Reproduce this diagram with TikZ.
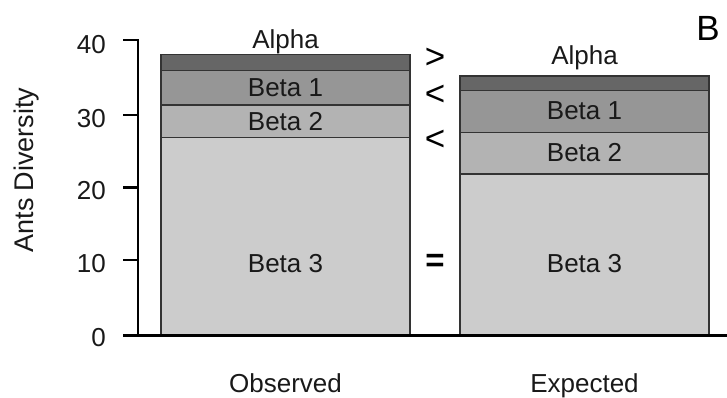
\documentclass[tikz,border=0pt]{standalone}
\usepackage{fontspec}
\setmainfont{Liberation Sans}
\begin{document}
\begin{tikzpicture}[x=1pt,y=-1pt,
  seg/.style={draw=black!80,line width=1.3pt},
  lbl/.style={font=\fontsize{26}{30}\selectfont,text=black!90,inner sep=0pt},
  cmp/.style={font=\fontsize{35}{38}\selectfont,text=black,inner sep=0pt},
  axis/.style={line width=2.6pt,black},
]
\useasboundingbox (0,0) rectangle (727,398);
\definecolor{cA}{HTML}{666666}
\definecolor{cB}{HTML}{969696}
\definecolor{cC}{HTML}{B3B3B3}
\definecolor{cD}{HTML}{CCCCCC}
% Observed bar
\draw[seg,fill=cD] (161,335) rectangle (410,137.3);
\draw[seg,fill=cC] (161,137.3) rectangle (410,105);
\draw[seg,fill=cB] (161,105) rectangle (410,70.3);
\draw[seg,fill=cA] (161,70.3) rectangle (410,54.3);
% Expected bar
\draw[seg,fill=cD] (460,335) rectangle (709,174);
\draw[seg,fill=cC] (460,174) rectangle (709,132.7);
\draw[seg,fill=cB] (460,132.7) rectangle (709,90.7);
\draw[seg,fill=cA] (460,90.7) rectangle (709,76);
% axes
\draw[axis] (123,40) -- (138,40) -- (138,335);
\foreach \yy in {115,187.5,260} \draw[axis] (123,\yy) -- (138,\yy);
\draw[axis,line width=3pt] (123,335) -- (727,335);
% tick labels
\node[lbl,anchor=east] (t40) at (106,45) {40};
\node[lbl,anchor=east] (t30) at (106,119) {30};
\node[lbl,anchor=east] (t20) at (106,191) {20};
\node[lbl,anchor=east] (t10) at (106,264) {10};
\node[lbl,anchor=east] (t0) at (106,338) {0};
\node[lbl,anchor=base,rotate=90,font=\fontsize{27}{30}\selectfont] (ytitle) at (33,170) {Ants Diversity};
% bar labels
\node[lbl] (oA) at (285.5,42) {Alpha};
\node[lbl] (o1) at (285.5,88) {Beta 1};
\node[lbl] (o2) at (285.5,122) {Beta 2};
\node[lbl] (o3) at (285.5,264) {Beta 3};
\node[lbl] (eA) at (584.5,58) {Alpha};
\node[lbl] (e1) at (584.5,111) {Beta 1};
\node[lbl] (e2) at (584.5,153) {Beta 2};
\node[lbl] (e3) at (584.5,264) {Beta 3};
% comparison symbols
\node[cmp] (gtA) at (435,58) {>};
\node[cmp] (lt1) at (435,95) {<};
\node[cmp] (lt2) at (435,140) {<};
\node[cmp,font=\bfseries\fontsize{33}{36}\selectfont] (eq3) at (435,263) {=};
% x labels
\node[lbl,anchor=base] (obs) at (285.5,392) {Observed};
\node[lbl,anchor=base] (exp) at (584.5,392) {Expected};
% panel letter
\node[lbl,text=black,font=\fontsize{35}{38}\selectfont] (B) at (708,28) {B};
\end{tikzpicture}
\end{document}
